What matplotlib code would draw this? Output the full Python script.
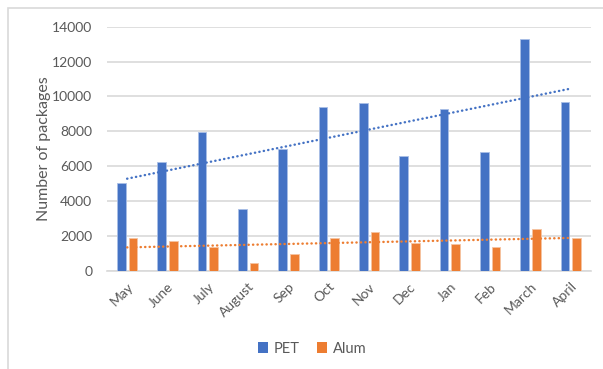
import numpy as np
import matplotlib
matplotlib.use("Agg")
import matplotlib.pyplot as plt
from matplotlib.patches import Rectangle, Patch

months = ["May", "June", "July", "August", "Sep", "Oct", "Nov", "Dec",
          "Jan", "Feb", "March", "April"]
pet = [5050, 6240, 7940, 3520, 6980, 9370, 9600, 6600, 9280, 6830, 13310, 9660]
alum = [1880, 1700, 1380, 440, 980, 1890, 2240, 1590, 1550, 1360, 2410, 1890]
yticks = [0, 2000, 4000, 6000, 8000, 10000, 12000, 14000]

PET_COLOR = "#4472C4"
ALUM_COLOR = "#ED7D31"
GRID = "#D9D9D9"
TEXT = "#595959"

plt.rcParams["font.family"] = ["Lato", "DejaVu Sans"]

fig = plt.figure(figsize=(6.03, 3.69), dpi=100)
ax = fig.add_axes([0.1774, 0.2664, 0.8026, 0.6612])

x = np.arange(len(months))
w = 0.215
off = 0.145
ax.bar(x - off, pet, width=w, color=PET_COLOR, edgecolor="#A9BEE6",
       linewidth=0.6, zorder=3)
ax.bar(x + off, alum, width=w, color=ALUM_COLOR, edgecolor="#F6C3A1",
       linewidth=0.6, zorder=3)

# linear trendlines, dotted
for vals, col in ((pet, PET_COLOR), (alum, ALUM_COLOR)):
    k, b = np.polyfit(x + 1, vals, 1)
    ax.plot(x, k * (x + 1) + b, color=col, linewidth=1.75,
            linestyle=(0, (0.1, 1.75)), dash_capstyle="round", zorder=4)

ax.set_xlim(-0.5, len(months) - 0.5)
ax.set_ylim(0, 14000)
ax.set_yticks(yticks)
ax.set_yticklabels([str(v) for v in yticks])
ax.set_xticks(x)
ax.set_xticklabels(months, rotation=45, ha="right", va="top",
                   rotation_mode="anchor")
ax.tick_params(axis="both", length=0, labelsize=10, colors=TEXT)
ax.tick_params(axis="y", pad=10.5)
ax.tick_params(axis="x", pad=7)
ax.grid(axis="y", color=GRID, linewidth=1.2, zorder=0)
ax.set_axisbelow(True)
for s in ("top", "right", "left"):
    ax.spines[s].set_visible(False)
ax.spines["bottom"].set_color(GRID)
ax.spines["bottom"].set_linewidth(1.2)
ax.set_ylabel("Number of packages", fontsize=11.5, color=TEXT, labelpad=1)

handles = [Patch(facecolor=PET_COLOR, label="PET"),
           Patch(facecolor=ALUM_COLOR, label="Alum")]
fig.legend(handles=handles, loc="center", bbox_to_anchor=(0.518, 0.055),
           ncol=2, frameon=False, fontsize=10.5, labelcolor=TEXT,
           handlelength=0.7, handleheight=0.7, handletextpad=0.4,
           columnspacing=1.2)

# chart area border
fig.patches.append(Rectangle((7.5 / 603, -0.1), 1.2, 1.1 - 8 / 369,
                             transform=fig.transFigure, fill=False,
                             edgecolor=GRID, linewidth=1.2))

fig.savefig("out.png", dpi=100)
